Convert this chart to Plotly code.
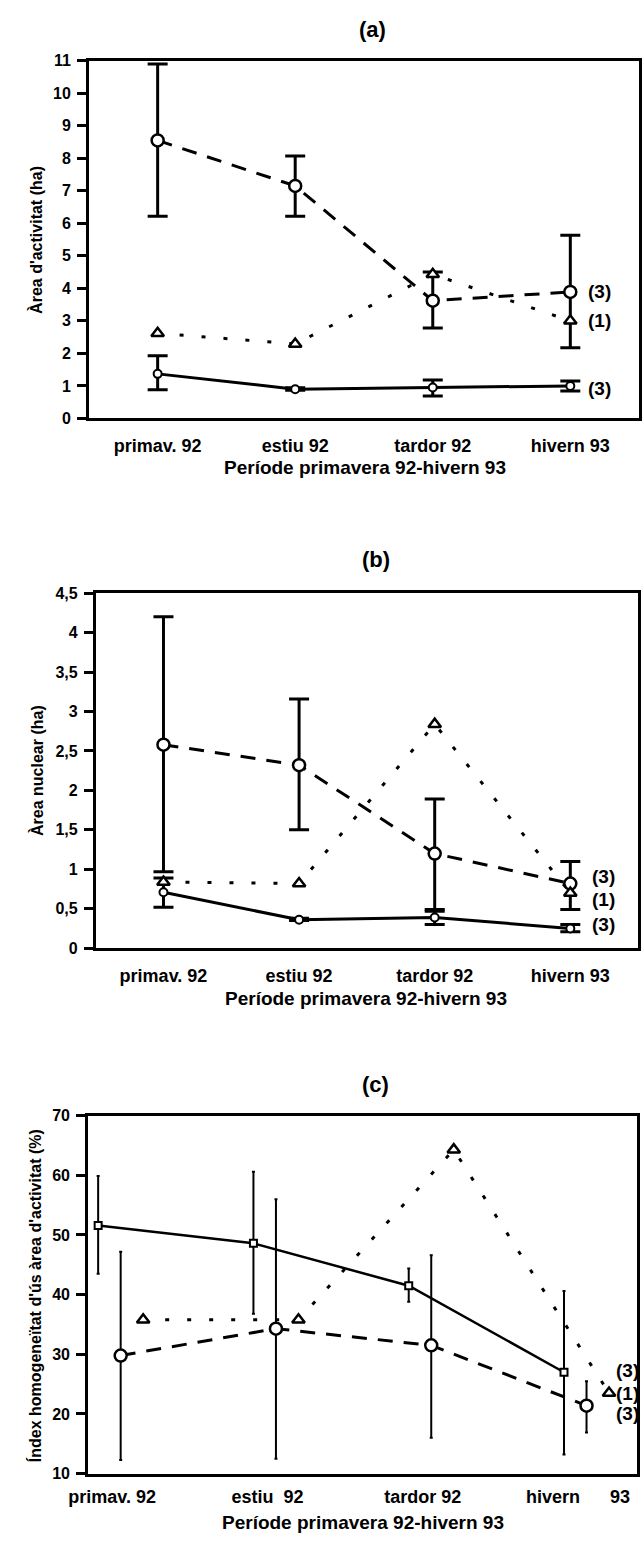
import plotly.graph_objects as go

W, H = 642, 1542

seasons = ["primav. 92", "estiu 92", "tardor 92", "hivern 93"]
seasons_c = ["primav. 92", "estiu\u00a0\u00a092", "tardor 92", "hivern" + "\u00a0" * 6 + "93"]
x_title = "Període primavera 92-hivern 93"

# ---------------- panel (a): Àrea d'activitat (ha)
a_solid = [1.37, 0.90, 0.95, 1.00]
a_solid_hi = [1.93, 0.94, 1.18, 1.15]
a_solid_lo = [0.88, 0.87, 0.69, 0.84]
a_dash = [8.55, 7.15, 3.62, 3.89]
a_dash_hi = [10.9, 8.07, 4.50, 5.63]
a_dash_lo = [6.22, 6.22, 2.78, 2.17]
a_dot = [2.62, 2.29, 4.43, 3.00]

# ---------------- panel (b): Àrea nuclear (ha)
b_solid = [0.71, 0.36, 0.39, 0.25]
b_solid_hi = [0.89, 0.38, 0.47, 0.30]
b_solid_lo = [0.52, 0.35, 0.30, 0.21]
b_dash = [2.58, 2.32, 1.20, 0.82]
b_dash_hi = [4.20, 3.16, 1.89, 1.10]
b_dash_lo = [0.97, 1.50, 0.49, 0.49]
b_dot = [0.84, 0.82, 2.84, 0.70]

# ---------------- panel (c): Índex homogeneïtat (%)
c_solid = [51.6, 48.6, 41.5, 27.0]
c_solid_hi = [59.9, 60.6, 44.4, 40.6]
c_solid_lo = [43.5, 36.8, 38.8, 13.2]
c_dash = [29.8, 34.3, 31.5, 21.4]
c_dash_hi = [47.2, 56.0, 46.6, 25.5]
c_dash_lo = [12.3, 12.5, 16.0, 16.9]
c_dot = [35.8, 35.8, 64.3, 23.5]

b_ticks = [0, 0.5, 1, 1.5, 2, 2.5, 3, 3.5, 4, 4.5]
b_ticktext = ["0", "0,5", "1", "1,5", "2", "2,5", "3", "3,5", "4", "4,5"]

FONT = "Liberation Sans"
BLACK = "black"


def px(x):
    return x / W


def py(y):
    return 1 - y / H


def err(mean, hi, lo):
    return dict(type="data", symmetric=False,
                array=[h - m for h, m in zip(hi, mean)],
                arrayminus=[m - l for m, l in zip(mean, lo)])


fig = go.Figure()


def add_panel(n, xs_solid, xs_dash, xs_dot, solid, shi, slo, dash, dhi, dlo, dot,
              solid_symbol, solid_size, ethick, ewidth, lw):
    xa = "x" if n == 1 else f"x{n}"
    ya = "y" if n == 1 else f"y{n}"
    e = err(solid, shi, slo)
    e.update(color=BLACK, thickness=ethick, width=ewidth)
    fig.add_trace(go.Scatter(
        x=xs_solid, y=solid, xaxis=xa, yaxis=ya, mode="lines+markers",
        line=dict(color=BLACK, width=lw),
        marker=dict(symbol=solid_symbol, size=solid_size, color="white",
                    line=dict(color=BLACK, width=2)),
        error_y=e, showlegend=False))
    e2 = err(dash, dhi, dlo)
    e2.update(color=BLACK, thickness=ethick, width=ewidth)
    fig.add_trace(go.Scatter(
        x=xs_dash, y=dash, xaxis=xa, yaxis=ya, mode="lines+markers",
        line=dict(color=BLACK, width=3, dash="15px,11px"),
        marker=dict(symbol="circle", size=12, color="white",
                    line=dict(color=BLACK, width=2.5)),
        error_y=e2, showlegend=False))
    fig.add_trace(go.Scatter(
        x=xs_dot, y=dot, xaxis=xa, yaxis=ya, mode="lines+markers",
        line=dict(color=BLACK, width=3, dash="4px,18px"),
        marker=dict(symbol="triangle-up", size=11, color="white",
                    line=dict(color=BLACK, width=2.5)),
        showlegend=False))


cats = [0, 1, 2, 3]
add_panel(1, cats, cats, cats, a_solid, a_solid_hi, a_solid_lo,
          a_dash, a_dash_hi, a_dash_lo, a_dot, "circle", 8, 3, 10, 3)
add_panel(2, cats, cats, cats, b_solid, b_solid_hi, b_solid_lo,
          b_dash, b_dash_hi, b_dash_lo, b_dot, "circle", 8, 3, 10, 3)
OFF_S, OFF_D, OFF_T = -0.09, 0.055, 0.2
add_panel(3, [c + OFF_S for c in cats], [c + OFF_D for c in cats], [c + OFF_T for c in cats],
          c_solid, c_solid_hi, c_solid_lo, c_dash, c_dash_hi, c_dash_lo, c_dot,
          "square", 7, 2, 1.5, 2.5)

tickfont = dict(family=FONT, size=18, color=BLACK, weight="bold")
ytickfont = dict(family=FONT, size=16, color=BLACK, weight="bold")

common_x = dict(showline=True, mirror=True, linewidth=2.5, linecolor=BLACK,
                ticks="", showgrid=False, zeroline=False, tickfont=tickfont,
                tickvals=cats, tickmode="array")
common_y = dict(showline=True, mirror=True, linewidth=2.5, linecolor=BLACK,
                ticks="outside", ticklen=9, tickwidth=2.5, tickcolor=BLACK,
                showgrid=False, zeroline=False, tickfont=ytickfont, ticklabelstandoff=3)

fig.update_layout(
    width=W, height=H, margin=dict(l=0, r=0, t=0, b=0),
    paper_bgcolor="white", plot_bgcolor="white",
    font=dict(family=FONT, color=BLACK),
    xaxis=dict(common_x, domain=[px(72), px(639)], range=[-0.5, 3.5],
               ticktext=seasons, anchor="y", ticklabelstandoff=9),
    yaxis=dict(common_y, domain=[py(415), py(53.3)], range=[0, 11], dtick=1,
               tick0=0, anchor="x"),
    xaxis2=dict(common_x, domain=[px(79), px(638)], range=[-0.5, 3.5],
                ticktext=seasons, anchor="y2", ticklabelstandoff=9),
    yaxis2=dict(common_y, domain=[py(950.7), py(591.7)], range=[0, 4.5],
                tickvals=b_ticks, ticktext=b_ticktext, tickmode="array", anchor="x2"),
    xaxis3=dict(common_x, domain=[px(71), px(637)], range=[-0.156, 3.381],
                ticktext=seasons_c, anchor="y3", ticklabelstandoff=5),
    yaxis3=dict(common_y, domain=[py(1482), py(1120)], range=[10, 70], dtick=10,
                tick0=10, anchor="x3"),
)

ann = []
titlefont = dict(family=FONT, size=22, color=BLACK, weight="bold")
axfont = dict(family=FONT, size=19, color=BLACK, weight="bold")
yfont = dict(family=FONT, size=16, color=BLACK, weight="bold")
labfont = dict(family=FONT, size=19, color=BLACK, weight="bold")

for t, xx, yy in [("(a)", 364, 22), ("(b)", 368, 558), ("(c)", 367, 1088)]:
    ann.append(dict(text=t, x=px(xx), y=py(yy), xref="paper", yref="paper",
                    showarrow=False, font=titlefont, xanchor="center", yanchor="middle"))
for xx, yy in [(357, 465), (358, 1002), (355, 1531)]:
    ann.append(dict(text=x_title, x=px(xx), y=py(yy), xref="paper", yref="paper",
                    showarrow=False, font=axfont, xanchor="center", yanchor="middle"))
for t, xx, yy in [("Àrea d'activitat (ha)", 18, 234),
                  ("Àrea nuclear (ha)", 18, 771),
                  ("Índex homogeneïtat d'ús àrea d'activitat (%)", 16, 1302)]:
    ann.append(dict(text=t, x=px(xx), y=py(yy), xref="paper", yref="paper",
                    showarrow=False, font=yfont, textangle=-90,
                    xanchor="center", yanchor="middle"))

# series count labels at the right end of each panel
for xa, ya, xs, items in [
    ("x", "y", 16, [("(3)", a_dash[-1], 0), ("(1)", a_dot[-1], 0), ("(3)", a_solid[-1], -3)]),
    ("x2", "y2", 20, [("(3)", b_dash[-1], 7), ("(1)", b_dot[-1], -7), ("(3)", b_solid[-1], 4)]),
    ("x3", "y3", 36, [("(3)", c_solid[-1], 2), ("(1)", c_dot[-1], 0), ("(3)", c_dash[-1], -8)]),
]:
    for t, yv, ys in items:
        ann.append(dict(text=t, x=3, y=yv, xref=xa, yref=ya, xshift=xs, yshift=ys,
                        showarrow=False, font=labfont, xanchor="left", yanchor="middle"))

fig.update_layout(annotations=ann)
fig.write_html(
    "out.html",
    config={"displayModeBar": False},
    post_script="document.body.style.margin='0';document.body.style.overflow='hidden';",
)
